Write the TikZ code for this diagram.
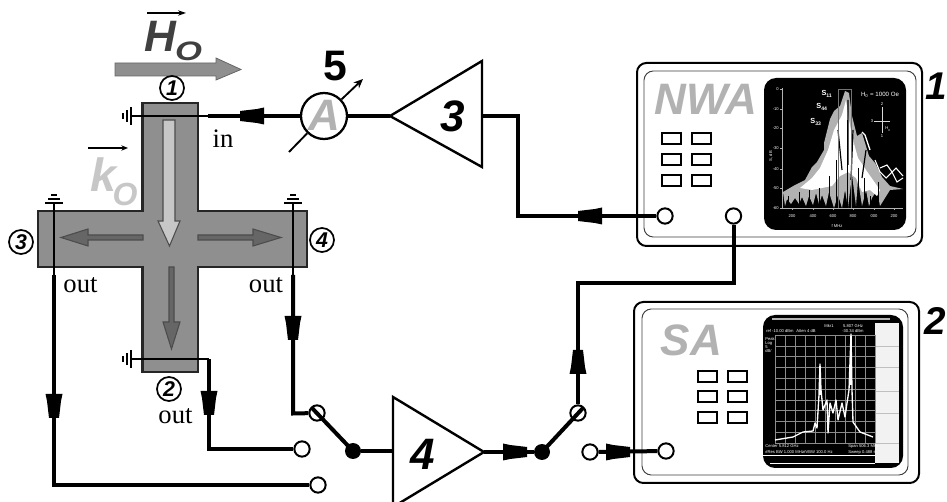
\documentclass[tikz,border=0pt]{standalone}
\usepackage{fontspec}
\setmainfont{Liberation Serif}
\newfontfamily\lab{Liberation Sans}
\usetikzlibrary{arrows.meta}
\definecolor{crossgray}{gray}{0.56}
\definecolor{lightlab}{gray}{0.70}
\newcommand{\pxf}[1]{\fontsize{#1}{#1}\selectfont}
\tikzset{
  wire/.style={line width=3pt,line cap=butt,line join=miter},
  thinwire/.style={line width=1.1pt},
  portc/.style={circle,draw=black,fill=white,line width=1.5pt,minimum size=11.5pt,inner sep=0pt},
  dotc/.style={circle,fill=black,minimum size=12pt,inner sep=0pt},
  numc/.style={circle,draw=black,fill=white,line width=1.3pt,minimum size=18pt,inner sep=0pt,font=\lab\itshape\bfseries\pxf{16}},
  amp/.style={draw=black,fill=white,line width=1.8pt,line join=miter},
  btn/.style={draw=black,fill=white,line width=1.5pt},
  panelo/.style={draw=black,fill=white,line width=1.5pt,rounded corners=7pt},
  paneli/.style={draw=black!75,line width=0.7pt,rounded corners=7pt},
  outl/.style={font=\pxf{20},inner sep=0pt},
  big/.style={font=\lab\itshape\bfseries\pxf{33},inner sep=0pt},
  tiny/.style={font=\lab\pxf{4.2},text=white,inner sep=0pt},
  tinier/.style={font=\lab\pxf{3.1},text=white,inner sep=0pt},
  flowhead/.pic={\fill[black] (-12,-8.5)--(-12,8.5)--(-5,7)--(12,5)--(12,-5)--(-5,-7)--cycle;},
  gnd/.pic={\draw[line width=1.3pt] (-9,0)--(9,0) (-6,-4)--(6,-4) (-3,-8)--(3,-8);},
}
\begin{document}
\begin{tikzpicture}[x=0.75pt,y=-0.75pt]
\useasboundingbox (0,0) rectangle (947,502);
\clip (0,0) rectangle (947,502);
% ---------- cross ----------
\draw[fill=crossgray,draw=black!85,line width=1.6pt,line join=miter]
  (142.5,103)--(198,103)--(198,211)--(307,211)--(307,267)--(198,267)--(198,372)--(142.5,372)
  --(142.5,267)--(38,267)--(38,211)--(142.5,211)--cycle;
% internal arrows
\draw[fill=black!22,draw=black!70,line width=.8pt]
  (163,120)--(175,120)--(175,221)--(180,221)--(169.5,246)--(158,221)--(163,221)--cycle;
\draw[fill=black!60,draw=black!70,line width=.8pt]
  (143,235)--(88,235)--(88,229)--(61,237.5)--(88,246)--(88,240)--(143,240)--cycle;
\draw[fill=black!60,draw=black!70,line width=.8pt]
  (198,235)--(253,235)--(253,229)--(281,237.5)--(253,246)--(253,240)--(198,240)--cycle;
\draw[fill=black!60,draw=black!70,line width=.8pt]
  (169,267)--(174,267)--(174,322)--(180,322)--(171.5,349)--(163,322)--(169,322)--cycle;
% H0 arrow
\draw[fill=crossgray,draw=black!60,line width=.6pt]
  (115,63)--(216,63)--(216,58)--(241,69.5)--(216,80)--(216,76)--(115,76)--cycle;
\draw[line width=.9pt,-{Stealth[length=6pt,width=4pt]}] (147,13)--(186,13);
\node[font=\lab\itshape\bfseries\pxf{33},text=black!75,inner sep=0pt] (hlab) at (160,36) {H};
\node[font=\lab\itshape\bfseries\pxf{20},text=black!75,inner sep=0pt,xscale=1.3,transform shape] (holab) at (188.5,51.5) {O};
\draw[line width=.9pt,-{Stealth[length=5pt,width=4pt]}] (88,148)--(128,148);
\node[font=\lab\itshape\bfseries\pxf{35},text=black!22,inner sep=0pt] (klab) at (103,175) {k};
\node[font=\lab\itshape\bfseries\pxf{24},text=black!22,inner sep=0pt] (kolab) at (125,194) {O};
% numbered circles
\node[numc] (n1) at (172,88) {1};
\node[numc] (n2) at (169,389) {2};
\node[numc] (n3) at (21,242) {3};
\node[numc] (n4) at (322,240) {4};
% grounds
\coordinate (g1) at (131,116);
\coordinate (g2) at (131,359);
\coordinate (g3) at (54,203);
\coordinate (g4) at (293,203);
\pic[rotate=90] at (g1) {gnd};
\pic[rotate=90] at (g2) {gnd};
\pic at (g3) {gnd};
\pic at (g4) {gnd};
% terminals
\coordinate (t1) at (208,116);
\coordinate (t2) at (209,359);
\coordinate (t3) at (54,275);
\coordinate (t4) at (293,275);
\draw[thinwire] (g1)--(t1);
\draw[thinwire] (g2)--(t2);
\draw[thinwire] (g3)--(t3);
\draw[thinwire] (g4)--(t4);
\node[outl] (lin) at (223,139) {in};
\node[outl] (lo3) at (80.5,285) {out};
\node[outl] (lo4) at (266,285) {out};
\node[outl] (lo2) at (175.5,416) {out};
% ---------- ammeter and amplifier 3 ----------
\coordinate (a3t) at (390,116);
\coordinate (a3u) at (482,61);
\coordinate (a3d) at (482,167);
\coordinate (a3o) at (482,116);
\node[circle,draw=black,fill=white,line width=1.7pt,minimum size=34.5pt,inner sep=0pt] (am) at (324,116) {};
\node[big,text=lightlab] (amlab) at (324,115) {A};
\draw[wire] (am)--(a3t);
\draw[wire] (am)--(t1);
\pic[rotate=180] at (252,116) {flowhead};
\draw[amp] (a3t)--(a3u)--(a3d)--cycle;
\node[big] (lb3) at (453,116) {3};
\draw[line width=1.4pt] (289,152)--(am);
\draw[line width=1.4pt,-{Stealth[length=7pt,width=6pt]}] (am)--(363,79);
\node[font=\lab\bfseries\pxf{32},inner sep=0pt] (lb5) at (335,66) {5};
% ---------- instruments ----------
\draw[panelo] (637,63) rectangle (922,246);
\draw[paneli] (644,71) rectangle (916,237);
\node[big,text=lightlab] (nwa) at (706,99.5) {NWA};
\foreach \xa in {662,692}\foreach \ya in {133,154,175}
  \draw[btn] (\xa,\ya) rectangle (\xa+19,\ya+11);
\draw[panelo] (634,302) rectangle (919,483);
\draw[paneli] (642,309) rectangle (908,475);
\node[big,text=lightlab] (sa) at (691.5,340) {SA};
\foreach \xa in {698,728}\foreach \ya in {371,391.5,412}
  \draw[btn] (\xa,\ya) rectangle (\xa+19,\ya+11);
\node[font=\lab\itshape\bfseries\pxf{29},inner sep=0pt] (lb1) at (936,86) {1};
\node[font=\lab\itshape\bfseries\pxf{29},inner sep=0pt] (lb2) at (935.5,321) {2};
% NWA screen
\fill[black,rounded corners=9pt] (764,78) rectangle (906,230);
\draw[white!70!black,line width=.5pt] (782,88)--(782,208)--(903,208);
\foreach \yy in {89,109,128,148,169,188,208} \draw[white!70!black,line width=.4pt] (780,\yy)--(782,\yy);
\foreach \xx in {792,813,833,853,874,894} \draw[white!70!black,line width=.4pt] (\xx,208)--(\xx,210);
\foreach \yy/\tt in {89/0,109/-10,128/-20,148/-30,169/-40,188/-50,208/-60} \node[tinier,anchor=east] at (779,\yy) {\tt};
\foreach \xx/\tt in {792/200,813/400,833/600,853/800,874/000,894/200} \node[tinier] at (\xx,216) {\tt};
\node[tinier] (fm) at (837,226) {f MHz};
\node[tinier,rotate=90] (sdb) at (771,156) {S, dB};
\node[tiny,font=\lab\bfseries\pxf{5.5}] (s1) at (827,94) {S\textsubscript{11}};
\node[tiny,font=\lab\bfseries\pxf{5.5}] (s2) at (822,107) {S\textsubscript{44}};
\node[tiny,font=\lab\bfseries\pxf{5.5}] (s3) at (816,122) {S\textsubscript{33}};
\node[tiny,font=\lab\pxf{4.6}] (hval) at (880,95) {H\textsubscript{0} = 1000 Oe};
\draw[white!85!black,line width=.7pt] (874,121)--(890,121) (882,107)--(882,133);
\node[tinier] at (882,104) {2};
\node[tinier] at (872,121) {3};
\node[tinier] at (882,136) {1};
\node[tinier] at (888,129) {H\textsubscript{0}};
% spectrum
\fill[black!30] (783,192)--(795,185)--(805,180)--(812,167)--(817,162)--(824,150)--(824,143)--(830,119)--(834,111)--(840,106)--(845,91)--(849,93)--(852,116)--(857,136)--(862,133)--(869,156)--(875,163)--(882,177)--(890,186)--(903,189)
 --(890,190)--(885,198)--(880,206)--(877,190)--(872,198)--(869,206)--(866,190)--(862,206)--(858,180)--(856,206)--(852,175)--(848,208)--(845,190)--(842,208)--(838,195)--(834,208)--(829,192)--(826,206)--(822,195)--(819,204)--(816,193)--(813,205)--(809,196)--(806,206)--(802,197)--(799,204)--(795,198)--(791,204)--(787,199)--(785,206)--cycle;
\fill[white] (800,188)--(812,178)--(820,168)--(828,150)--(834,130)--(842,115)--(846,100)--(849,120)--(853,140)--(858,158)--(866,170)--(880,190)--(877,196)--(870,190)--(862,192)--(856,178)--(848,172)--(840,176)--(832,186)--(822,188)--(812,190)--cycle;
\foreach \xx/\yy in {788/196,799/192,809/190,819/188,829/176,836/160,847/120,858/168,864/178,870/196,878/182}
  \draw[black,line width=.7pt] (\xx,\yy)--(\xx,208);
\draw[black,line width=.9pt] (838,130)--(842,170) (848,100)--(848,165) (853,130)--(851,180) (866,150)--(862,178);
\draw[white,line width=.8pt] (875,160)--(880,172)--(886,178)--(892,172)--(897,182)--(903,178);
\draw[white,line width=.8pt] (880,168)--(887,165)--(892,172)--(896,168)--(903,176);
\draw[white,line width=1pt] (870,150)--(865,135)--(862,132);
\draw[black!55,line width=.7pt] (838,208)--(838,89)--(851,89)--(851,208);
% SA screen
\fill[black,rounded corners=9pt] (763,315) rectangle (903,468);
\fill[black!5] (875,323) rectangle (899,463);
\foreach \yy in {346,367,391,413,443} \draw[black!25,line width=.4pt] (875,\yy)--(899,\yy);
\fill[black!30] (772,318) rectangle (890,320);
\foreach \xx in {775,785,...,875} \draw[black!45,line width=.45pt] (\xx,335)--(\xx,443);
\foreach \yy in {335,346,356.8,367.6,378.4,389.2,400,410.8,421.6,432.4,443} \draw[black!45,line width=.45pt] (775,\yy)--(875,\yy);
\draw[white,line width=1pt,line join=round]
  (775,440)--(793,437)--(803,432)--(813,431)--(815,423)--(817,428)--(819,395)--(820,364)--(821,390)--(823,410)--(827,400)--(828,433)--(830,403)--(833,413)--(836,400)--(838,420)--(842,403)--(845,417)--(847,403)--(849,390)--(851,334)--(852,390)--(853,422)--(860,432)--(873,437);
\draw[white,line width=1.6pt] (820,366)--(820,395) (851,336)--(851,385);
\fill[white] (763,455) rectangle (875,456.5);
\fill[white] (770,463) rectangle (875,464);
\node[tinier,anchor=west] (t1a) at (766,331) {ref -10.00 dBm};
\node[tinier,anchor=west] (t1b) at (796,331) {Atten 4 dB};
\node[tinier] (t1c) at (829,326) {Mkr1};
\node[tinier] (t1d) at (853,326) {5.807 GHz};
\node[tinier] (t1e) at (853,331) {-30.34 dBm};
\node[tinier,anchor=west,align=left] (t1f) at (765,345) {Peak\\Log\\5\\dB/};
\node[tinier,anchor=west] (t2a) at (765,446) {Center 5.812 GHz};
\node[tinier,anchor=west] (t2b) at (765,452) {\#Res BW 1.000 MHz};
\node[tinier,anchor=west] (t2c) at (803,452) {\#VBW 100.0 Hz};
\node[tinier,anchor=west] (t2d) at (848,446) {Span 506.3 MHz};
\node[tinier,anchor=west] (t2e) at (848,452) {Sweep 0.488 s};
% ---------- ports and wiring ----------
\node[portc] (nwa1) at (665,216) {};
\node[portc] (nwa2) at (733.5,216) {};
\node[portc] (sa1) at (666,451) {};
\node[portc] (sw4a) at (317,413) {};
\node[portc] (sw2) at (302,449) {};
\node[portc] (sw3) at (318,485) {};
\node[portc] (sw5a) at (578,413) {};
\node[portc] (sw5b) at (590,452) {};
\node[dotc] (d1) at (353,451) {};
\node[dotc] (d2) at (542,452) {};
\coordinate (a4t) at (484,452);
\coordinate (a4u) at (393,397);
\coordinate (a4d) at (393,507);
\coordinate (a4i) at (393,451);
\coordinate (b4) at (312,408);
\coordinate (b5) at (583,408);
\draw[wire] (a3o)-|(517.5,216)--(nwa1);
\pic[rotate=180] at (590,216) {flowhead};
\draw[wire] (nwa2)|-(sw5a.north |- 0,283)--(sw5a);
\pic[rotate=90] at (578,362) {flowhead};
\draw[wire] (t3)--(54,485)--(sw3);
\pic[rotate=-90] at (54,406) {flowhead};
\draw[wire] (t2)--(209,449)--(sw2);
\pic[rotate=-90] at (209,403) {flowhead};
\draw[wire] (t4)--(293,413.5)--(sw4a);
\pic[rotate=-90] at (293,328) {flowhead};
\draw[wire] (b4)--(d1.center);
\draw[wire] (d1)--(a4i);
\draw[amp] (a4t)--(a4u)--(a4d)--cycle;
\node[big] (lb4) at (423,454) {4};
\draw[wire] (a4t)--(d2);
\pic at (515,452) {flowhead};
\draw[wire] (d2.center)--(b5);
\draw[wire] (sw5b)--(sa1);
\pic at (618,452) {flowhead};
\end{tikzpicture}
\end{document}
